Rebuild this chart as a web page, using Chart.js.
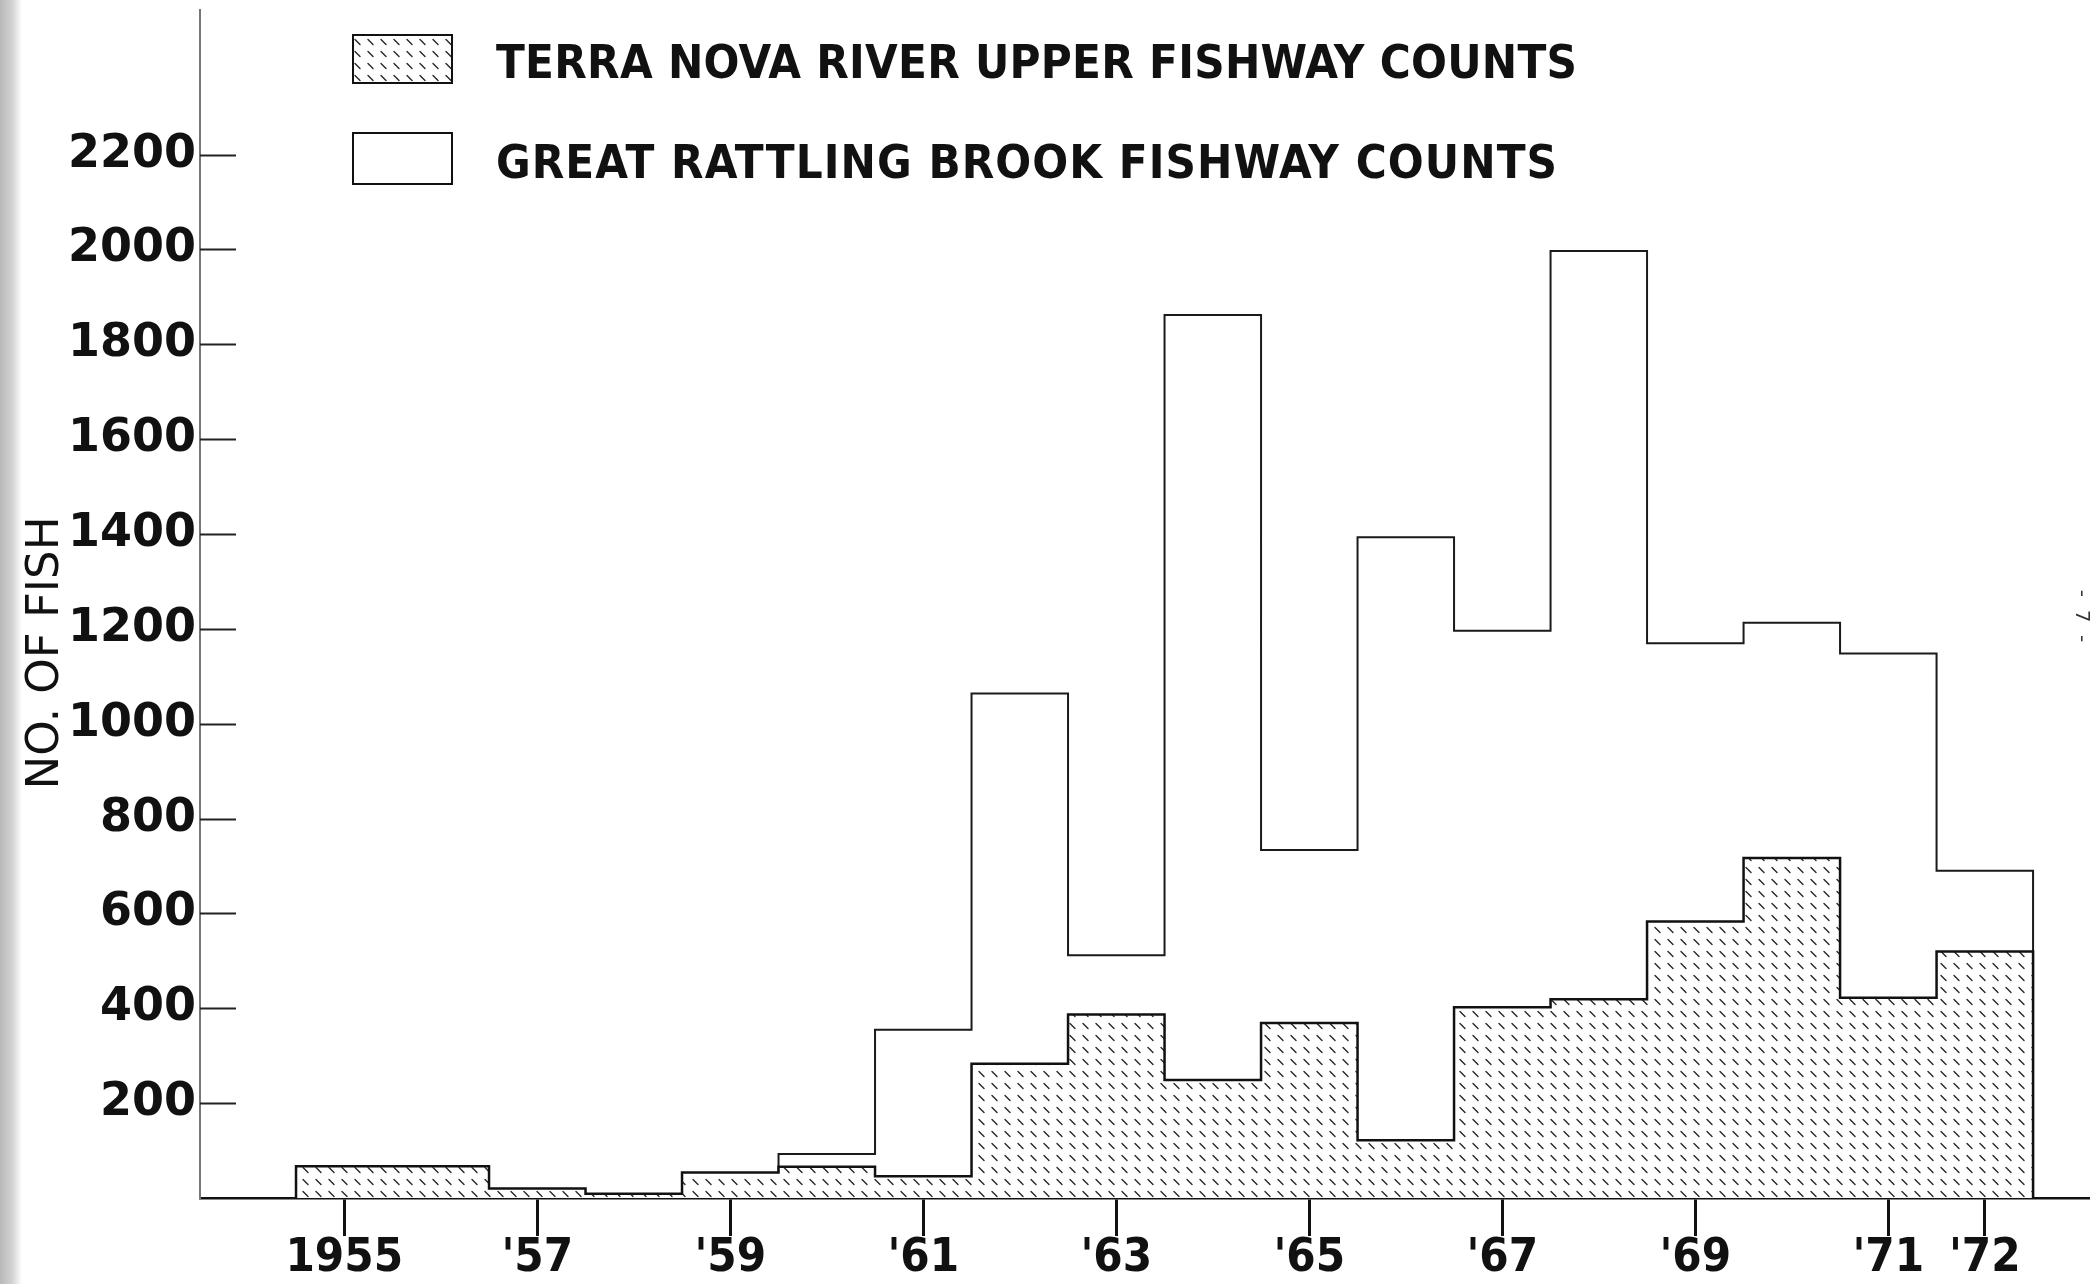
<!DOCTYPE html>
<html>
<head>
<meta charset="utf-8">
<title>Fishway counts 1955-1972</title>
<script src="https://cdn.jsdelivr.net/npm/chart.js@4.4.1/dist/chart.umd.min.js"></script>
<style>
  html, body { margin: 0; padding: 0; background: #fff; }
  canvas { display: block; }
</style>
</head>
<body>
<canvas id="fishChart" width="2090" height="1284"></canvas>
<script>
var years = [1955, 1956, 1957, 1958, 1959, 1960, 1961, 1962, 1963, 1964, 1965, 1966, 1967, 1968, 1969, 1970, 1971, 1972];
var terraNova = [67, 67, 20, 9, 54, 66, 46, 283, 387, 249, 369, 122, 402, 419, 583, 717, 422, 520];
var greatRattling = [null, null, null, null, null, 93, 355, 1064, 512, 1862, 734, 1393, 1196, 1997, 1170, 1213, 1148, 690];
var seriesNames = ['TERRA NOVA RIVER UPPER FISHWAY COUNTS', 'GREAT RATTLING BROOK FISHWAY COUNTS'];
var xTickYears = [1955, 1957, 1959, 1961, 1963, 1965, 1967, 1969, 1971, 1972];
var xTickLabels = ['1955', "'57", "'59", "'61", "'63", "'65", "'67", "'69", "'71", "'72"];
var yTickValues = [200, 400, 600, 800, 1000, 1200, 1400, 1600, 1800, 2000, 2200];

var narrowFont = '"Liberation Sans Narrow", "DejaVu Sans Condensed", "Liberation Sans", sans-serif';

// each year is a bar one year wide, drawn as a stepped outline down to zero
function histogram(values) {
  var pts = [], last = -1;
  for (var i = 0; i < years.length; i++) {
    if (values[i] == null) continue;
    if (last < 0) pts.push({x: years[i] - 0.5, y: 0});
    pts.push({x: years[i] - 0.5, y: values[i]});
    last = i;
  }
  pts.push({x: years[last] + 0.5, y: values[last]});
  pts.push({x: years[last] + 0.5, y: 0});
  return pts;
}

var canvas = document.getElementById('fishChart');
var ctx = canvas.getContext('2d');

function makeHatch() {
  var c = document.createElement('canvas');
  c.width = 13; c.height = 12;
  var g = c.getContext('2d');
  g.fillStyle = '#fff';
  g.fillRect(0, 0, 13, 12);
  g.strokeStyle = '#262626';
  g.lineWidth = 1.4;
  g.lineCap = 'round';
  g.beginPath();
  g.moveTo(4, 3.5);
  g.lineTo(9, 8.5);
  g.stroke();
  return ctx.createPattern(c, 'repeat');
}
var hatch = makeHatch();

var decorations = {
  id: 'decorations',
  beforeDraw: function(chart) {
    var c = chart.ctx;
    c.save();
    // grey edge of the scanned page
    var grad = c.createLinearGradient(0, 0, 22, 0);
    grad.addColorStop(0, '#b8b8b8');
    grad.addColorStop(0.55, '#d2d2d2');
    grad.addColorStop(1, '#ffffff');
    c.fillStyle = grad;
    c.fillRect(0, 0, 22, chart.height);
    c.restore();
  },
  afterDraw: function(chart) {
    var c = chart.ctx, area = chart.chartArea, y = chart.scales.y;
    c.save();

    // y tick marks point into the plot
    c.strokeStyle = '#222';
    c.lineWidth = 2;
    y.ticks.forEach(function(t) {
      var py = Math.round(y.getPixelForValue(t.value)) + 0.5;
      c.beginPath();
      c.moveTo(area.left, py);
      c.lineTo(area.left + 36, py);
      c.stroke();
    });

    // axis title
    c.save();
    c.translate(46, 653);
    c.rotate(-Math.PI / 2);
    c.font = '45px "DejaVu Sans"';
    c.fillStyle = '#111';
    c.textAlign = 'center';
    c.textBaseline = 'middle';
    c.fillText('NO. OF FISH', 0, 0);
    c.restore();

    // legend, stacked in the upper left of the plot
    var boxTop = [35, 133], boxH = [48, 51], textMid = [66, 166], textW = [1081, 1061];
    chart.data.datasets.forEach(function(ds, i) {
      c.fillStyle = ds.backgroundColor;
      c.fillRect(353, boxTop[i], 99, boxH[i]);
      c.strokeStyle = '#111';
      c.lineWidth = 2;
      c.strokeRect(353, boxTop[i], 99, boxH[i]);
      c.font = 'bold 47px ' + narrowFont;
      c.letterSpacing = '0px';
      var w = c.measureText(ds.label).width;
      c.letterSpacing = ((textW[i] - w) / (ds.label.length - 1)) + 'px';
      c.fillStyle = '#111';
      c.textAlign = 'left';
      c.textBaseline = 'middle';
      c.fillText(ds.label, 496, textMid[i]);
      c.letterSpacing = '0px';
    });

    // page number in the margin
    c.save();
    c.translate(2081, 616);
    c.rotate(Math.PI / 2);
    c.font = '20px "DejaVu Sans"';
    c.fillStyle = '#333';
    c.textAlign = 'center';
    c.textBaseline = 'middle';
    c.fillText('-  7  -', 0, 0);
    c.restore();

    c.restore();
  }
};

new Chart(ctx, {
  type: 'line',
  data: {
    datasets: [{
      label: seriesNames[0],
      data: histogram(terraNova),
      stepped: 'before',
      fill: 'origin',
      backgroundColor: hatch,
      borderColor: '#111',
      borderWidth: 2.5,
      borderJoinStyle: 'miter',
      pointRadius: 0
    }, {
      label: seriesNames[1],
      data: histogram(greatRattling),
      stepped: 'before',
      fill: 'origin',
      backgroundColor: '#fff',
      borderColor: '#1a1a1a',
      borderWidth: 2,
      borderJoinStyle: 'miter',
      pointRadius: 0
    }]
  },
  options: {
    responsive: false,
    animation: false,
    devicePixelRatio: 1,
    events: [],
    layout: { padding: { top: 10, left: 0, right: 0, bottom: 0 } },
    plugins: {
      legend: { display: false },
      tooltip: { enabled: false }
    },
    scales: {
      x: {
        type: 'linear',
        min: 1953.505,
        max: 1973.09,
        afterBuildTicks: function(s) { s.ticks = xTickYears.map(function(v) { return {value: v}; }); },
        afterFit: function(s) { s.height = 86; s.paddingLeft = 0; s.paddingRight = 0; },
        grid: { drawOnChartArea: false, drawTicks: true, tickLength: 38, lineWidth: 3, color: '#111' },
        border: { display: true, color: '#111', width: 2.5 },
        ticks: {
          autoSkip: false,
          maxRotation: 0,
          padding: 0,
          color: '#111',
          font: { family: narrowFont, weight: 'bold', size: 47, lineHeight: 0.95 },
          callback: function(v, i) { return xTickLabels[i]; }
        }
      },
      y: {
        min: 0,
        max: 2505,
        afterBuildTicks: function(s) { s.ticks = yTickValues.map(function(v) { return {value: v}; }); },
        afterFit: function(s) { s.width = 200; s.paddingTop = 0; s.paddingBottom = 0; },
        grid: { drawOnChartArea: false, drawTicks: false },
        border: { display: true, color: '#777', width: 2 },
        ticks: {
          padding: 4,
          color: '#111',
          font: { family: 'DejaVu Sans', weight: 'bold', size: 46 },
          callback: function(v) { return String(v); }
        }
      }
    }
  },
  plugins: [decorations]
});
</script>
</body>
</html>
